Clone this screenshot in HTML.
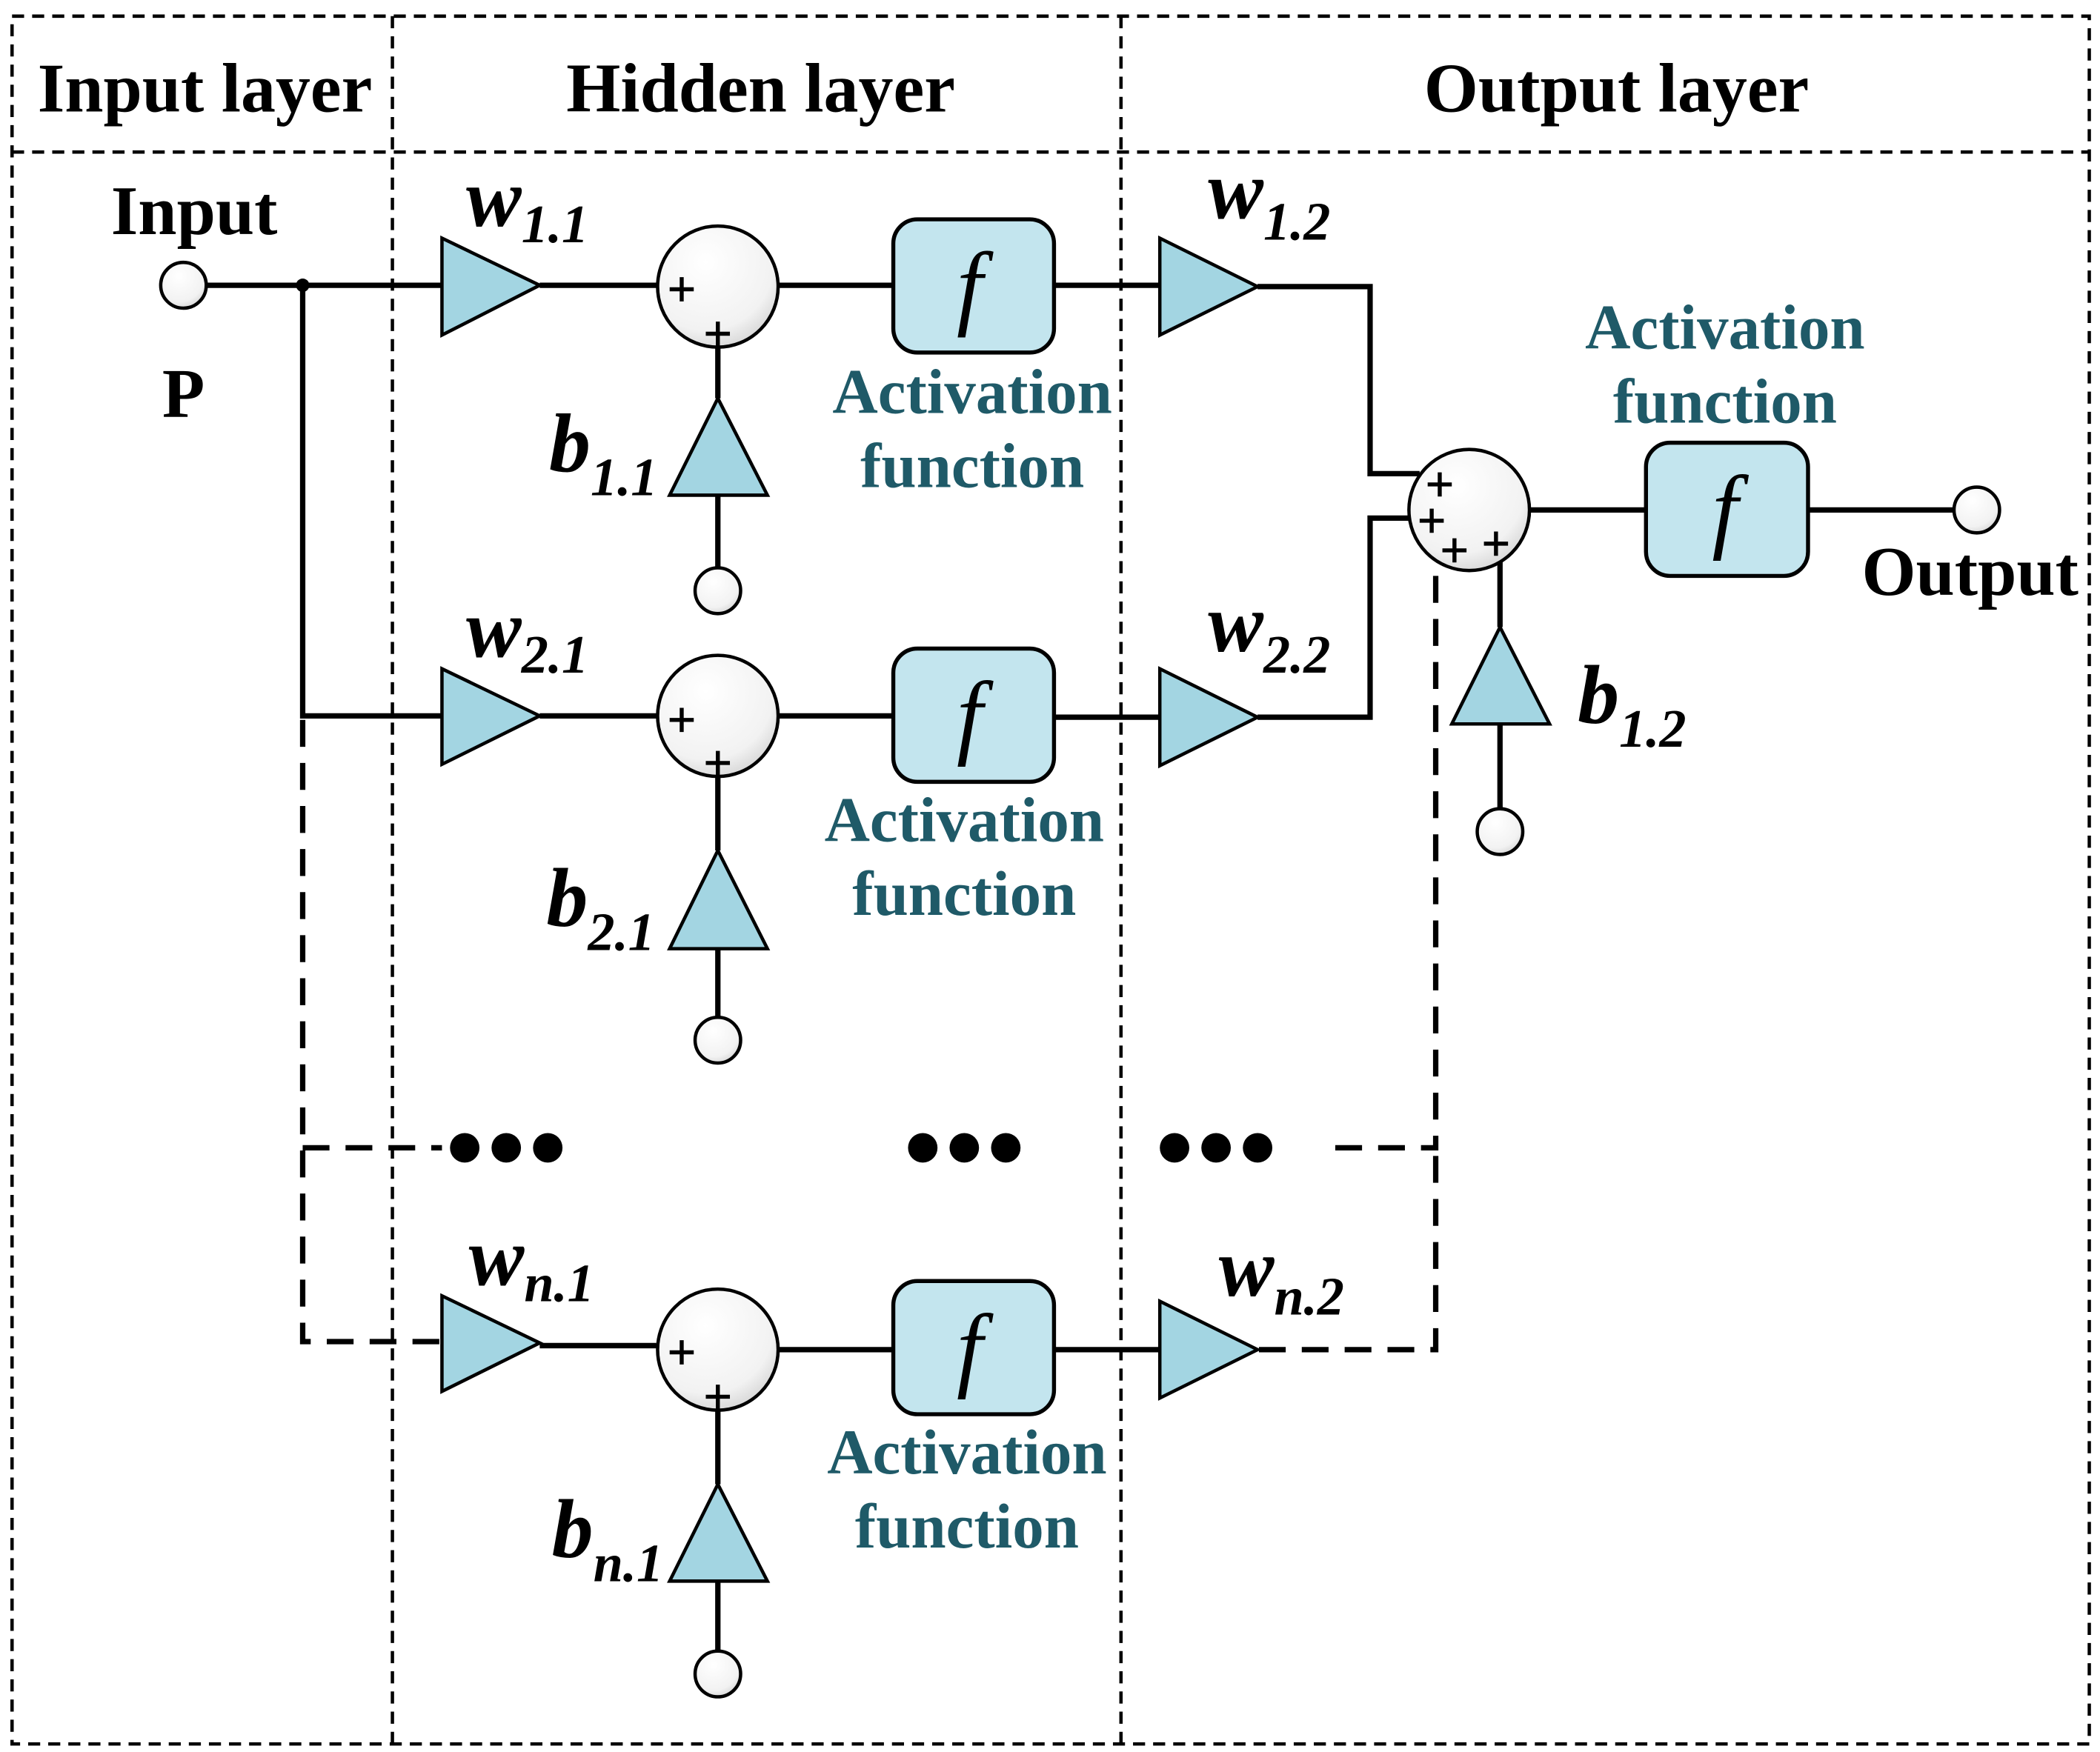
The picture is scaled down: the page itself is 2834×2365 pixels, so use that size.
<!DOCTYPE html>
<html><head><meta charset="utf-8"><style>
html,body{margin:0;padding:0;background:#fff}
svg{display:block}
text{font-family:"Liberation Serif",serif;font-weight:bold}
text.fn{font-weight:normal;font-style:italic}
.t{fill:#1f5a68;font-size:47px;text-anchor:middle}
.h{font-size:52px;text-anchor:middle}
.it{font-style:italic}
</style></head><body>
<svg width="2834" height="2365" viewBox="0 0 1568 1302" preserveAspectRatio="none" xmlns="http://www.w3.org/2000/svg">
<defs>
<radialGradient id="g" cx="0.4" cy="0.3" r="0.8"><stop offset="0" stop-color="#fff"/><stop offset="0.7" stop-color="#f2f2f2"/><stop offset="1" stop-color="#ccc"/></radialGradient>
</defs>
<g fill="none" stroke="#000" stroke-width="2.5" stroke-dasharray="9,6">
<rect x="9" y="12" width="1551" height="1284"/>
<line x1="9" y1="113" x2="1560" y2="113"/>
<line x1="293" y1="12" x2="293" y2="1296"/>
<line x1="837" y1="12" x2="837" y2="1296"/>
</g>
<text class="h" x="153" y="83">Input layer</text>
<text class="h" x="568" y="83">Hidden layer</text>
<text class="h" x="1207" y="83">Output layer</text>
<text class="h" x="145" y="174">Input</text>
<text class="h" x="137" y="310">P</text>
<text class="h" x="1471" y="442">Output</text>

<g stroke="#000" stroke-width="4" fill="none">
<path d="M154 212H330"/>
<path d="M226 212V532H330"/>
<path d="M403 212H490M581 212H667M787 212H866M939 213H1023V352H1060"/>
<path d="M403 532H490M581 532H667M787 533H866M939 533H1023V385H1055"/>
<path d="M403 1000H490M581 1003H667M787 1003H866"/>
<path d="M1142 379H1229M1350 379H1460"/>
<path d="M536 258V296M536 368V422M536 577V632M536 705V756M536 1048V1103M536 1175V1227M1120 400V466M1120 538V602"/>
</g>
<g stroke="#000" stroke-width="4" fill="none" stroke-dasharray="20,12">
<path d="M226 535V997H330"/>
<path d="M226 853H330"/>
<path d="M997 853H1072V410"/>
<path d="M940 1003H1072V853"/>
</g>
<circle cx="226" cy="212" r="5"/>
<g fill="#000">
<circle cx="347" cy="853" r="11"/><circle cx="378" cy="853" r="11"/><circle cx="409" cy="853" r="11"/>
<circle cx="689" cy="853" r="11"/><circle cx="720" cy="853" r="11"/><circle cx="751" cy="853" r="11"/>
<circle cx="877" cy="853" r="11"/><circle cx="908" cy="853" r="11"/><circle cx="939" cy="853" r="11"/>
</g>

<g fill="#a3d5e2" stroke="#000" stroke-width="2.5">
<polygon points="330,177 330,249 403,212"/>
<polygon points="330,497 330,568 403,532"/>
<polygon points="330,963 330,1034 403,998"/>
<polygon points="866,177 866,249 939,213"/>
<polygon points="866,497 866,569 939,533"/>
<polygon points="866,967 866,1039 939,1003"/>
<polygon points="536,296 500,368 573,368"/>
<polygon points="536,632 500,705 573,705"/>
<polygon points="536,1103 500,1175 573,1175"/>
<polygon points="1120,466 1084,538 1157,538"/>
</g>
<g fill="#c3e5ee" stroke="#000" stroke-width="3">
<rect x="667" y="163" width="120" height="99" rx="18"/>
<rect x="667" y="482" width="120" height="99" rx="18"/>
<rect x="667" y="952" width="120" height="99" rx="18"/>
<rect x="1229" y="329" width="121" height="99" rx="18"/>
</g>
<g font-size="70" text-anchor="middle">
<text class="fn" x="724" y="236">f</text><text class="fn" x="724" y="555">f</text><text class="fn" x="724" y="1025">f</text><text class="fn" x="1288" y="402">f</text>
</g>
<g fill="url(#g)" stroke="#000" stroke-width="2.5">
<circle cx="536" cy="213" r="45"/><circle cx="536" cy="532" r="45"/><circle cx="536" cy="1003" r="45"/>
<circle cx="1097" cy="379" r="45"/>
<circle cx="137" cy="212" r="17"/><circle cx="536" cy="439" r="17"/><circle cx="536" cy="773" r="17"/><circle cx="536" cy="1244" r="17"/>
<circle cx="1120" cy="618" r="17"/><circle cx="1476" cy="379" r="17"/>
</g>
<g stroke="#000" stroke-width="3">
<path d="M500 215h18M509 206v18M527 248h18M536 239v18"/>
<path d="M500 535h18M509 526v18M527 567h18M536 558v18"/>
<path d="M500 1005h18M509 996v18M527 1038h18M536 1029v18"/>
<path d="M1066 360h18M1075 351v18M1060 387h18M1069 378v18M1077 409h18M1086 400v18M1108 404h18M1117 395v18"/>
</g>
<g class="it" font-size="62">
<text x="348" y="168">w<tspan font-size="40" dy="12">1.1</tspan></text>
<text x="348" y="488">w<tspan font-size="40" dy="12">2.1</tspan></text>
<text x="350" y="955">w<tspan font-size="40" dy="12">n.1</tspan></text>
<text x="902" y="162">w<tspan font-size="40" dy="16">1.2</tspan></text>
<text x="902" y="484">w<tspan font-size="40" dy="16">2.2</tspan></text>
<text x="910" y="963">w<tspan font-size="40" dy="14">n.2</tspan></text>
<text x="410" y="350">b<tspan font-size="40" dy="18">1.1</tspan></text>
<text x="408" y="688">b<tspan font-size="40" dy="18">2.1</tspan></text>
<text x="412" y="1157">b<tspan font-size="40" dy="18">n.1</tspan></text>
<text x="1178" y="537">b<tspan font-size="40" dy="18">1.2</tspan></text>
</g>
<text class="t" x="726" y="307">Activation</text><text class="t" x="726" y="362">function</text>
<text class="t" x="720" y="625">Activation</text><text class="t" x="720" y="680">function</text>
<text class="t" x="722" y="1095">Activation</text><text class="t" x="722" y="1150">function</text>
<text class="t" x="1288" y="259">Activation</text><text class="t" x="1288" y="314">function</text>
</svg>
</body></html>
